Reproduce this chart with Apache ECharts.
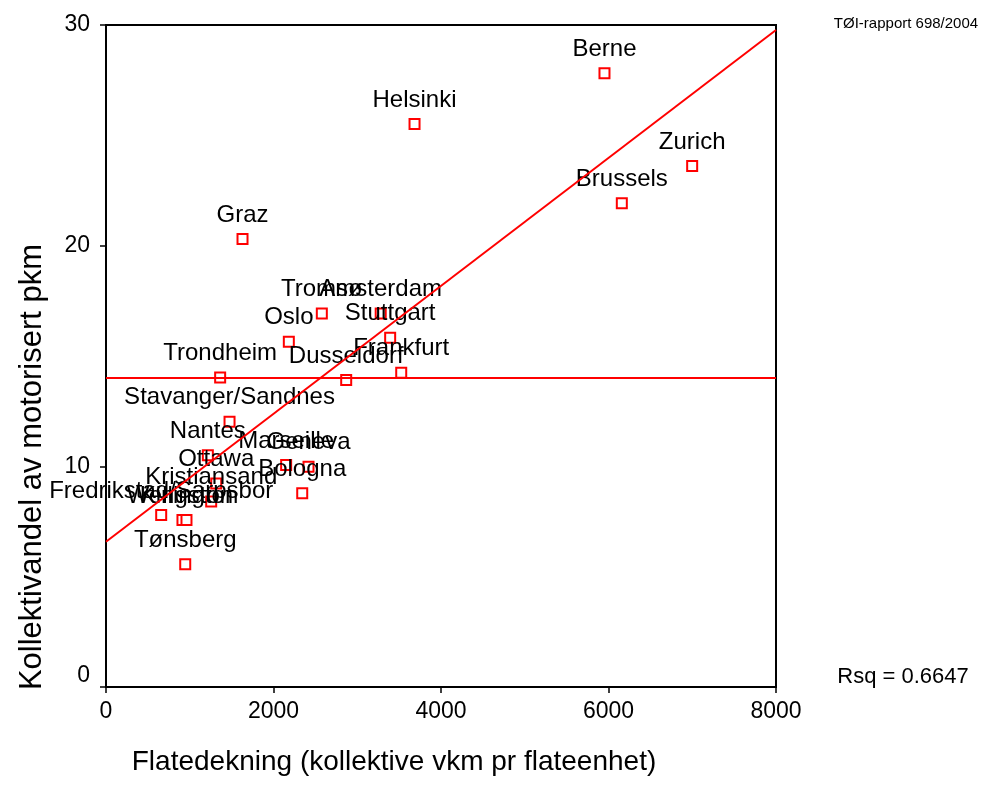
<!DOCTYPE html>
<html>
<head>
<meta charset="utf-8">
<script src="https://cdn.jsdelivr.net/npm/echarts@6/dist/echarts.min.js"></script>
<style>
  html, body { margin: 0; padding: 0; background: #fff; }
  #chart { width: 985px; height: 803px; }
</style>
</head>
<body>
<div id="chart"></div>
<script>
// byer og verdier lest av figuren
const cities = ['Berne', 'Helsinki', 'Zurich', 'Brussels', 'Graz', 'Tromsø', 'Amsterdam', 'Oslo',
  'Stuttgart', 'Frankfurt', 'Dusseldorf', 'Trondheim', 'Stavanger/Sandnes', 'Nantes', 'Marseille',
  'Geneva', 'Ottawa', 'Kristiansand', 'Bologna', 'Fredrikstad/Sarpsbor', 'Wellington', 'Kingston', 'Tønsberg'];
const flatedekning = [5952, 3684, 6999, 6159, 1630, 2577, 3280, 2183,
  3393, 3525, 2868, 1363, 1475, 1216, 2151,
  2418, 1316, 1256, 2343, 659, 913, 961, 946];
const kollektivandel = [27.81, 25.51, 23.61, 21.92, 20.30, 16.93, 16.93, 15.65,
  15.83, 14.24, 13.91, 14.03, 12.02, 10.50, 10.06,
  9.98, 9.22, 8.41, 8.78, 7.79, 7.57, 7.57, 5.56];

// regresjonslinje og gjennomsnitt
const regX = [0, 8000];
const regY = [6.58, 29.77];
const meanY = 14.0;

const xTicks = [0, 2000, 4000, 6000, 8000];
const yTicks = [0, 10, 20, 30];

const font = '"Liberation Sans", Arial, sans-serif';

let points = [];
for (let i = 0; i < cities.length; i++) {
    points.push({ name: cities[i], value: [flatedekning[i], kollektivandel[i]] });
}
let regLine = regX.map((x, i) => [x, regY[i]]);
let meanLine = regX.map(x => [x, meanY]);

let myChart = echarts.init(document.getElementById('chart'));
let option = {
    animation: false,
    textStyle: { fontFamily: font, color: '#000' },
    grid: {
        left: 106, right: 209, top: 25, bottom: 116,
        show: true, borderColor: '#000', borderWidth: 2, backgroundColor: 'transparent'
    },
    xAxis: {
        type: 'value', min: xTicks[0], max: xTicks[xTicks.length - 1], interval: 2000,
        splitLine: { show: false },
        axisLine: { show: true, onZero: false, lineStyle: { color: '#000', width: 2 } },
        axisTick: { show: true, length: 6, lineStyle: { color: '#000', width: 1.5 } },
        axisLabel: { fontSize: 23, color: '#000', margin: 13, fontFamily: font, formatter: v => String(v) }
    },
    yAxis: {
        type: 'value', min: yTicks[0], max: yTicks[yTicks.length - 1], interval: 10,
        splitLine: { show: false },
        axisLine: { show: true, onZero: false, lineStyle: { color: '#000', width: 2 } },
        axisTick: { show: true, length: 6, lineStyle: { color: '#000', width: 1.5 } },
        axisLabel: { fontSize: 23, color: '#000', margin: 16, fontFamily: font, verticalAlignMinLabel: 'bottom' }
    },
    series: [
        {
            type: 'scatter', data: points, symbol: 'rect', symbolSize: 10, z: 2,
            itemStyle: { color: '#fff', borderColor: '#ff0000', borderWidth: 2, opacity: 1 },
            label: {
                show: true, position: 'top', distance: 6,
                formatter: p => p.name,
                fontSize: 24, color: '#000', opacity: 1, textBorderWidth: 0, fontFamily: font
            },
            labelLayout: { hideOverlap: false }
        },
        {
            type: 'line', data: meanLine, symbol: 'none', z: 3,
            lineStyle: { color: '#ff0000', width: 2 }, silent: true
        },
        {
            type: 'line', data: regLine, symbol: 'none', z: 3,
            lineStyle: { color: '#ff0000', width: 2 }, silent: true
        }
    ],
    graphic: [
        {
            type: 'text', x: 394, y: 762,
            style: { text: 'Flatedekning (kollektive vkm pr flateenhet)', font: '28px ' + font, fill: '#000', align: 'center', verticalAlign: 'middle' }
        },
        {
            type: 'text', x: 32, y: 467, rotation: Math.PI / 2,
            style: { text: 'Kollektivandel av motorisert pkm', font: '31px ' + font, fill: '#000', align: 'center', verticalAlign: 'middle' }
        },
        {
            type: 'text', x: 903, y: 677,
            style: { text: 'Rsq = 0.6647', font: '22px ' + font, fill: '#000', align: 'center', verticalAlign: 'middle' }
        },
        {
            type: 'text', x: 906, y: 24,
            style: { text: 'TØI-rapport 698/2004', font: '15px ' + font, fill: '#000', align: 'center', verticalAlign: 'middle' }
        }
    ]
};
option && myChart.setOption(option);
</script>
</body>
</html>
